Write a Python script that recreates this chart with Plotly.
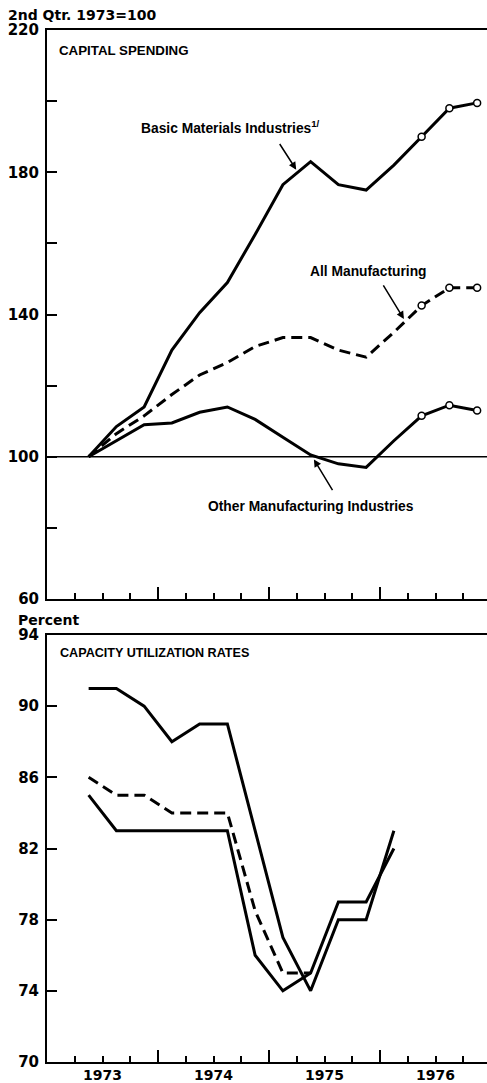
import plotly.graph_objects as go

# ---------------- data ----------------
cap_quarters = ["1973Q2", "1973Q3", "1973Q4", "1974Q1", "1974Q2", "1974Q3", "1974Q4",
                "1975Q1", "1975Q2", "1975Q3", "1975Q4", "1976Q1", "1976Q2", "1976Q3", "1976Q4"]
cap_basic = [100, 108.5, 114, 130, 140.5, 149, 162.5, 176.5, 183, 176.5, 175, 182, 190, 198, 199.5]
cap_all = [100, 106.5, 111.5, 117.5, 123, 126.5, 131, 133.5, 133.5, 130, 128, 135, 142.5, 147.5, 147.5]
cap_other = [100, 104.5, 109, 109.5, 112.5, 114, 110.5, 105.5, 100.5, 98, 97, 104.5, 111.5, 114.5, 113]
cap_projected = [False] * 12 + [True] * 3

cu_quarters = ["1973Q2", "1973Q3", "1973Q4", "1974Q1", "1974Q2", "1974Q3", "1974Q4",
               "1975Q1", "1975Q2", "1975Q3", "1975Q4", "1976Q1"]
cu_basic = [91, 91, 90, 88, 89, 89, 83, 77, 74, 78, 78, 83]
cu_all = [86, 85, 85, 84, 84, 84, 78.5, 75, 75]
cu_other = [85, 83, 83, 83, 83, 83, 76, 74, 75, 79, 79, 82]

year_labels = ["1973", "1974", "1975", "1976"]
cap_ticks = [60, 80, 100, 120, 140, 160, 180, 200, 220]
cap_ticklabels = ["60", "", "100", "", "140", "", "180", "", "220"]
cu_ticks = [70, 74, 78, 82, 86, 90, 94]


def qpos(q):
    """Quarter label -> mid-quarter position on a numeric year axis."""
    y, n = q.split("Q")
    return int(y) + (int(n) - 0.5) / 4


cap_x = [qpos(q) for q in cap_quarters]
cu_x = [qpos(q) for q in cu_quarters]

# ---------------- geometry / style ----------------
W, H = 487, 1083
L, R, T, B = 47, 0, 30, 21
PX_PER_YEAR = 111
X0 = 1973
XR = [X0, X0 + (W - L - R) / PX_PER_YEAR]
area_h = H - T - B


def px(xp):
    return (xp - L) / (W - L - R)


def py(yp):
    return (H - B - yp) / area_h


top_dom = [py(599), 1.0]
bot_dom = [0.0, py(635)]

BLACK = "black"
LAB = "Liberation Sans, Arial, sans-serif"
BOLD = "DejaVu Sans"
LW = 3
DASH = "11px,6px"

fig = go.Figure()


def marker_for(projected):
    return dict(size=[7 if p else 0 for p in projected], color="white",
                line=dict(color=BLACK, width=1.5), symbol="circle", opacity=1)


# Capital spending
fig.add_trace(go.Scatter(x=cap_x, y=cap_basic, mode="lines+markers", xaxis="x", yaxis="y",
                         line=dict(color=BLACK, width=LW), marker=marker_for(cap_projected),
                         name="Basic Materials Industries"))
fig.add_trace(go.Scatter(x=cap_x, y=cap_all, mode="lines+markers", xaxis="x", yaxis="y",
                         line=dict(color=BLACK, width=LW, dash=DASH), marker=marker_for(cap_projected),
                         name="All Manufacturing"))
fig.add_trace(go.Scatter(x=cap_x, y=cap_other, mode="lines+markers", xaxis="x", yaxis="y",
                         line=dict(color=BLACK, width=LW), marker=marker_for(cap_projected),
                         name="Other Manufacturing Industries"))

# Capacity utilization
fig.add_trace(go.Scatter(x=cu_x, y=cu_basic, mode="lines", xaxis="x2", yaxis="y2",
                         line=dict(color=BLACK, width=LW), name="Basic Materials Industries"))
fig.add_trace(go.Scatter(x=cu_x[:len(cu_all)], y=cu_all, mode="lines", xaxis="x2", yaxis="y2",
                         line=dict(color=BLACK, width=LW, dash=DASH), name="All Manufacturing"))
fig.add_trace(go.Scatter(x=cu_x, y=cu_other, mode="lines", xaxis="x2", yaxis="y2",
                         line=dict(color=BLACK, width=LW), name="Other Manufacturing Industries"))
# invisible carrier so the year-label axis is drawn
fig.add_trace(go.Scatter(x=cu_x, y=cu_other, mode="lines", xaxis="x3", yaxis="y2",
                         line=dict(color="rgba(0,0,0,0)", width=0), hoverinfo="skip",
                         showlegend=False))

year_ticks = [1974, 1975, 1976]
quarter_ticks = [X0 + k / 4 for k in range(1, 16) if k % 4 != 0]

xcommon = dict(range=XR, showline=True, linewidth=2, linecolor=BLACK, mirror=True,
               ticks="inside", tickmode="array", tickvals=year_ticks, ticklen=12, tickwidth=1.5,
               tickcolor=BLACK, showticklabels=False, showgrid=False, zeroline=False,
               automargin=False,
               minor=dict(ticks="inside", tickmode="array", tickvals=quarter_ticks, ticklen=6,
                          tickwidth=1.5, tickcolor=BLACK, showgrid=False))
ycommon = dict(showline=True, linewidth=2, linecolor=BLACK, ticks="inside", ticklen=10,
               tickwidth=1.5, tickcolor=BLACK, showgrid=False, zeroline=False, automargin=False,
               tickfont=dict(family=BOLD, size=15, color=BLACK, weight="bold"),
               tickmode="array", ticklabelstandoff=3)
yright = dict(showline=False, ticks="inside", ticklen=10, tickwidth=1.5, tickcolor=BLACK,
              showticklabels=False, showgrid=False, zeroline=False, side="right",
              tickmode="array", automargin=False)

fig.update_layout(
    width=W, height=H, margin=dict(l=L, r=R, t=T, b=B, pad=0, autoexpand=False),
    paper_bgcolor="white", plot_bgcolor="white", showlegend=False,
    xaxis=dict(anchor="y", domain=[0, 1], **xcommon),
    xaxis2=dict(anchor="y2", domain=[0, 1], **xcommon),
    xaxis3=dict(overlaying="x2", anchor="y2", range=XR, showline=False, ticks="",
                tickmode="array", tickvals=[X0 + i + 0.5 for i in range(len(year_labels))],
                ticktext=year_labels, showgrid=False, zeroline=False, side="bottom",
                automargin=False, ticklabelstandoff=3,
                tickfont=dict(family=BOLD, size=14, color=BLACK, weight="bold")),
    yaxis=dict(anchor="x", domain=top_dom, range=[60, 220], tickvals=cap_ticks,
               ticktext=cap_ticklabels, **ycommon),
    yaxis2=dict(anchor="x2", domain=bot_dom, range=[70, 94], tickvals=cu_ticks,
                ticktext=[str(v) for v in cu_ticks], **ycommon),
    yaxis3=dict(overlaying="y", anchor="x", range=[60, 220], tickvals=cap_ticks, **yright),
    yaxis4=dict(overlaying="y2", anchor="x2", range=[70, 94], tickvals=cu_ticks, **yright),
)

# base line at 100
fig.add_shape(type="line", xref="x domain", x0=0, x1=1, yref="y", y0=100, y1=100,
              line=dict(color=BLACK, width=1.5))

ann = []


def text(s, xp, yp, font, size, anchor="left", bold=True):
    ann.append(dict(text=s, xref="paper", yref="paper", x=px(xp), y=py(yp), xanchor=anchor,
                    yanchor="middle", showarrow=False, borderpad=0,
                    font=dict(family=font, size=size, color=BLACK,
                              weight="bold" if bold else "normal")))


text("2nd Qtr. 1973=100", 7, 15, BOLD, 14)
text("Percent", 17, 620, BOLD, 14)
text("CAPITAL SPENDING", 58, 50, LAB, 13.3)
text("CAPACITY UTILIZATION RATES", 59, 653, LAB, 12.6)
text("Basic Materials Industries<sup>1/</sup>", 140, 127, LAB, 13.8)
text("All Manufacturing", 309, 271, LAB, 13.8)
text("Other Manufacturing Industries", 207, 506, LAB, 13.8)


def arrow(xd, yd, ax, ay):
    ann.append(dict(text="", x=xd, y=yd, xref="x", yref="y", ax=ax, ay=ay, showarrow=True,
                    arrowhead=2, arrowsize=1, arrowwidth=1.5, arrowcolor=BLACK, standoff=1))


arrow(1975.25, 180.5, -18, -28)
arrow(1976.22, 138.5, -22, -36)
arrow(1975.40, 99.5, 20, 33)

fig.update_layout(annotations=ann)
fig.write_html("out.html", config={"displayModeBar": False},
               post_script="document.body.style.margin='0px';document.body.style.overflow='hidden';")
